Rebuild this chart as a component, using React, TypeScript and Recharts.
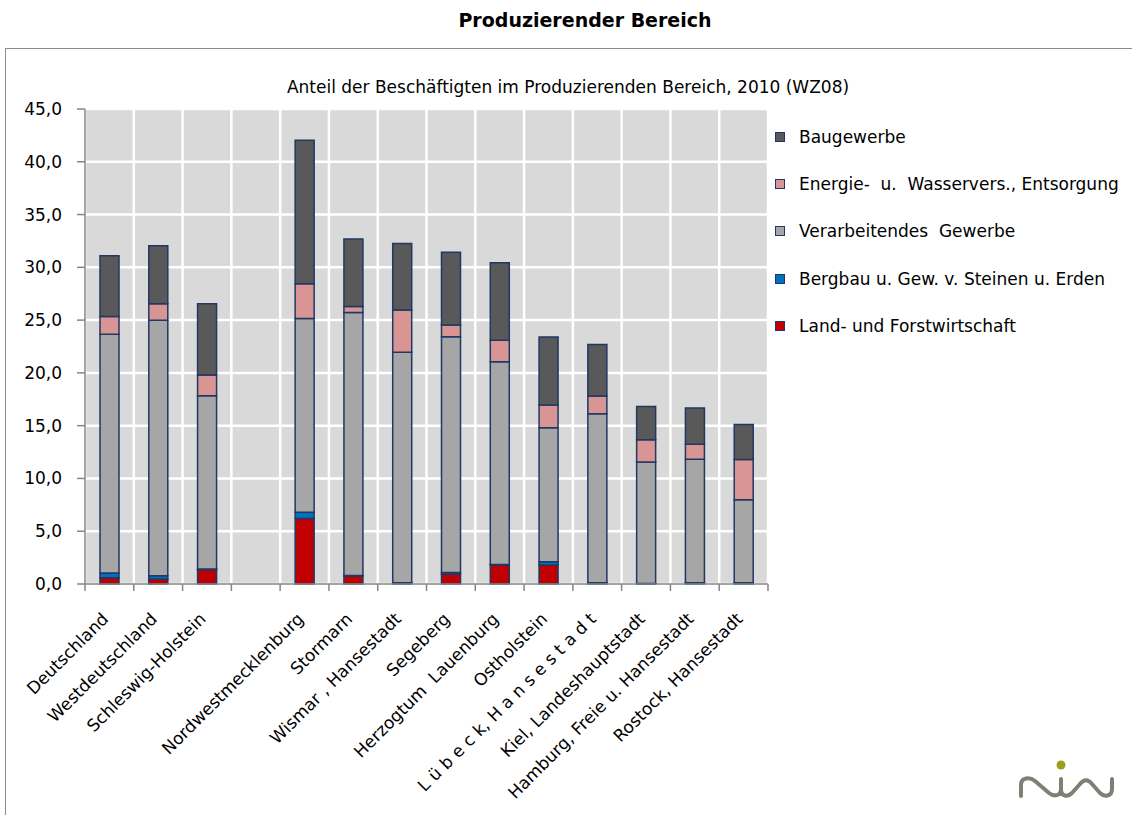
import { BarChart, Bar, XAxis, YAxis, CartesianGrid } from "recharts";

const categories = [
  "Deutschland",
  "Westdeutschland",
  "Schleswig-Holstein",
  "",
  "Nordwestmecklenburg",
  "Stormarn",
  "Wismar , Hansestadt",
  "Segeberg",
  "Herzogtum  Lauenburg",
  "Ostholstein",
  "L ü b e c k, H a n s e s t a d t",
  "Kiel, Landeshauptstadt",
  "Hamburg, Freie u. Hansestadt",
  "Rostock, Hansestadt",
];

// Anteile in %, von unten nach oben gestapelt
const land = [0.6, 0.47, 1.36, null, 6.2, 0.76, 0.1, 0.92, 1.8, 1.8, 0.1, 0.03, 0.1, 0.1];
const bergbau = [0.45, 0.32, 0.05, null, 0.6, 0.05, 0.02, 0.18, 0.05, 0.3, 0.02, 0.02, 0.02, 0.02];
const verarb = [22.6, 24.2, 16.43, null, 18.35, 24.9, 21.83, 22.33, 19.2, 12.7, 16.0, 11.5, 11.7, 7.86];
const energie = [1.7, 1.55, 1.96, null, 3.3, 0.57, 4.0, 1.11, 2.05, 2.15, 1.7, 2.11, 1.42, 3.82];
const bau = [5.75, 5.5, 6.75, null, 13.6, 6.4, 6.3, 6.88, 7.33, 6.44, 4.86, 3.16, 3.44, 3.31];

const yTicks = [0, 5, 10, 15, 20, 25, 30, 35, 40, 45];

const series = [
  { key: "land", name: "Land- und Forstwirtschaft", color: "#C00000" },
  { key: "bergbau", name: "Bergbau u. Gew. v. Steinen u. Erden", color: "#0070C0" },
  { key: "verarb", name: "Verarbeitendes  Gewerbe", color: "#A6A6A6" },
  { key: "energie", name: "Energie-  u.  Wasservers., Entsorgung", color: "#D99594" },
  { key: "bau", name: "Baugewerbe", color: "#595959" },
];

const data = categories.map((name, i) => ({
  name,
  land: land[i],
  bergbau: bergbau[i],
  verarb: verarb[i],
  energie: energie[i],
  bau: bau[i],
}));

const boundaryTicks = categories.map((_, i) => i).concat(categories.length);

const FONT = "'DejaVu Sans', Verdana, sans-serif";

// grid lines sit between the categories, like in Excel
const gridX = ({ offset }: any) =>
  boundaryTicks.map((i) => offset.left + (i * offset.width) / categories.length);

const RotTick = (props: any) => {
  const { x, y, payload, index, width, visibleTicksCount } = props;
  const n = visibleTicksCount || categories.length;
  const band = width / n;
  const left = x - band / 2;
  return (
    <g>
      <line x1={left} x2={left} y1={y} y2={y + 7} stroke="#868686" strokeWidth={1.5} />
      {index === n - 1 && (
        <line
          x1={left + band}
          x2={left + band}
          y1={y}
          y2={y + 7}
          stroke="#868686"
          strokeWidth={1.5}
        />
      )}
      <g transform={`translate(${x},${y + 36})`}>
        <text
          x={0}
          y={0}
          textAnchor="end"
          transform="rotate(-45)"
          fontSize={17}
          fontFamily={FONT}
          fill="#000"
          style={{ whiteSpace: "pre" }}
        >
          {payload.value}
        </text>
      </g>
    </g>
  );
};

const LegendBox = () => (
  <div
    style={{
      position: "absolute",
      left: 775,
      top: 113,
      fontFamily: FONT,
      fontSize: 17,
      color: "#000",
    }}
  >
    {series
      .slice()
      .reverse()
      .map((s) => (
        <div
          key={s.key}
          style={{ height: 47.3, display: "flex", alignItems: "center", whiteSpace: "pre" }}
        >
          <span
            style={{
              display: "inline-block",
              width: 8,
              height: 8,
              background: s.color,
              border: "1.5px solid #1F3864",
              marginRight: 14,
            }}
          />
          {s.name}
        </div>
      ))}
  </div>
);

const Logo = () => (
  <svg
    width={1132}
    height={815}
    style={{ position: "absolute", left: 0, top: 0, pointerEvents: "none" }}
  >
    <path
      d="M1021,796 L1021,785 C1021,777 1030,777 1035,781 L1049,793 C1054,797 1061,796 1061,789 L1061,779 M1061,789 C1061,797 1068,797 1072,793 L1080,784 C1084,779 1088,779 1092,784 L1100,793 C1104,797 1112,797 1112,789 L1112,779"
      fill="none"
      stroke="#7F7F74"
      strokeWidth={4}
      strokeLinecap="round"
    />
    <circle cx={1061} cy={765} r={4.5} fill="#9AA01E" />
  </svg>
);

export default function App() {
  return (
    <div
      style={{
        position: "absolute",
        left: 0,
        top: 0,
        width: 1132,
        height: 815,
        background: "#fff",
        overflow: "hidden",
      }}
    >
      <div
        style={{
          position: "absolute",
          left: 0,
          top: 9,
          width: 1170,
          textAlign: "center",
          fontFamily: FONT,
          fontWeight: "bold",
          fontSize: 19,
        }}
      >
        Produzierender Bereich
      </div>
      <div
        style={{
          position: "absolute",
          left: 5,
          top: 48,
          width: 1150,
          height: 800,
          border: "1.5px solid #8C8C8C",
        }}
      />
      <div
        style={{
          position: "absolute",
          left: 0,
          top: 77,
          width: 1136,
          textAlign: "center",
          fontFamily: FONT,
          fontSize: 17,
          whiteSpace: "pre",
        }}
      >
        Anteil der Beschäftigten im Produzierenden Bereich, 2010 (WZ08)
      </div>
      <div style={{ position: "absolute", left: 0, top: 0 }}>
        <BarChart
          width={1132}
          height={815}
          data={data}
          margin={{ top: 109, right: 364, bottom: 31, left: 0 }}
          barSize={19}
        >
          <CartesianGrid
            fill="#D9D9D9"
            stroke="#FFFFFF"
            strokeWidth={2.5}
            verticalCoordinatesGenerator={gridX}
          />
          <XAxis
            dataKey="name"
            interval={0}
            tick={<RotTick />}
            tickLine={false}
            tickSize={0}
            tickMargin={0}
            axisLine={{ stroke: "#868686", strokeWidth: 1.5 }}
            height={200}
          />
          <YAxis
            domain={[0, 45]}
            ticks={yTicks}
            width={85}
            tickSize={8}
            tickMargin={15}
            axisLine={{ stroke: "#868686", strokeWidth: 1.5 }}
            tickLine={{ stroke: "#868686", strokeWidth: 1.5 }}
            tick={{ fill: "#000", fontSize: 17, fontFamily: FONT }}
            tickFormatter={(v: number) => v.toFixed(1).replace(".", ",")}
          />
          {series.map((s) => (
            <Bar
              key={s.key}
              dataKey={s.key}
              name={s.name}
              stackId="a"
              fill={s.color}
              stroke="#1F3864"
              strokeWidth={1.5}
              isAnimationActive={false}
            />
          ))}
        </BarChart>
      </div>
      <LegendBox />
      <Logo />
    </div>
  );
}
